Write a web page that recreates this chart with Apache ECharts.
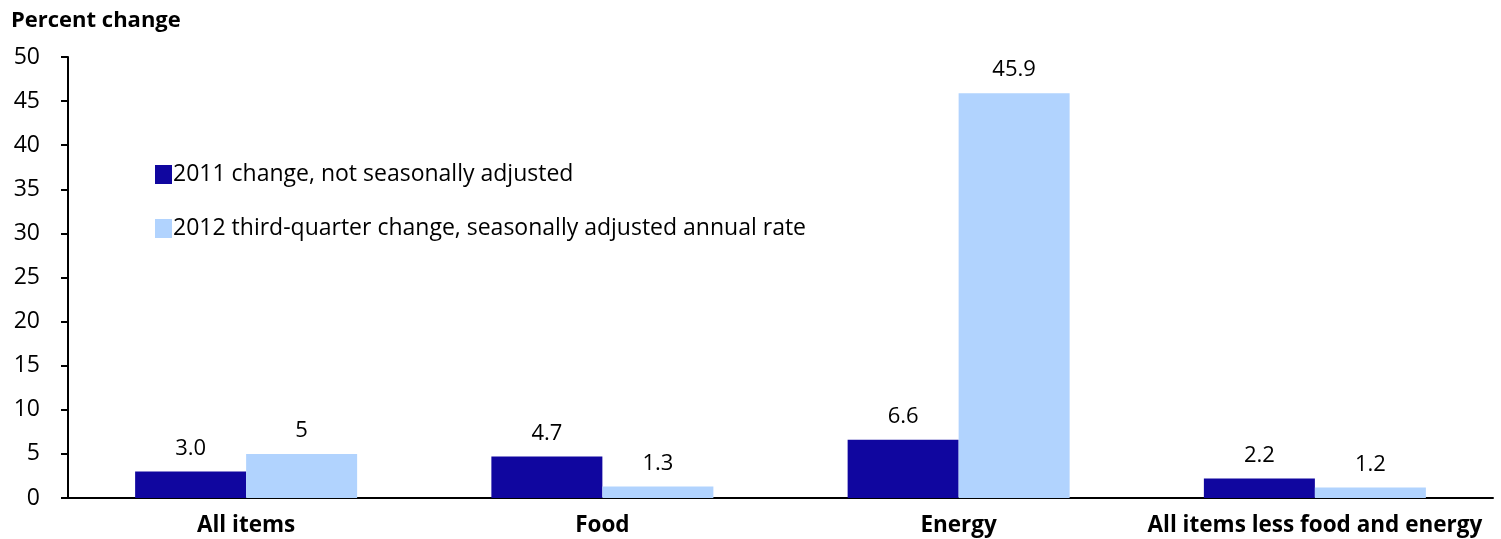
<!DOCTYPE html>
<html>
<head>
<meta charset="utf-8">
<script src="https://cdn.jsdelivr.net/npm/echarts@6/dist/echarts.min.js"></script>
<style>
  html, body { margin: 0; padding: 0; background: #fff; }
  #bar-chart { width: 1501px; height: 539px; }
</style>
</head>
<body>
<div id="bar-chart"></div>
<script>
var categories = ['All items', 'Food', 'Energy', 'All items less food and energy'];
var change2011 = [3.0, 4.7, 6.6, 2.2];
var change2012 = [5, 1.3, 45.9, 1.2];
var labels2011 = ['3.0', '4.7', '6.6', '2.2'];
var labels2012 = ['5', '1.3', '45.9', '1.2'];
var yTicks = [0, 50, 5];

var font = '"Open Sans", Lato, sans-serif';
var barchart = echarts.init(document.getElementById('bar-chart'));
var option = {
    animation: false,
    color: ['#10069f', '#b1d3fe'],
    textStyle: { fontFamily: font },

    title: {
        text: 'Percent change',
        left: 6,
        top: 5,
        textStyle: { fontFamily: font, fontSize: 22, fontWeight: 'bold', color: '#000' }
    },

    legend: {
        orient: 'vertical',
        left: 150,
        top: 158,
        itemGap: 31,
        itemWidth: 17,
        itemHeight: 19,
        icon: 'rect',
        textStyle: { fontFamily: font, fontSize: 23, color: '#000', padding: [0, 0, 0, -4] },
        data: ['2011 change, not seasonally adjusted', '2012 third-quarter change, seasonally adjusted annual rate']
    },

    grid: { left: 68, right: 8, top: 57, bottom: 41 },

    xAxis: [{
        type: 'category',
        data: categories,
        axisLine: { lineStyle: { color: '#000', width: 2 } },
        axisTick: { show: false },
        axisLabel: { interval: 0, fontFamily: font, fontSize: 22.5, fontWeight: 'bold', color: '#000', margin: 16 }
    }],
    yAxis: [{
        type: 'value',
        min: yTicks[0],
        max: yTicks[1],
        interval: yTicks[2],
        axisLine: { show: true, lineStyle: { color: '#000', width: 2 } },
        axisTick: { show: true, length: 7, lineStyle: { color: '#000', width: 2 } },
        splitLine: { show: false },
        axisLabel: { fontFamily: font, fontSize: 23, color: '#000', margin: 28 }
    }],

    series: [{
        name: '2011 change, not seasonally adjusted',
        type: 'bar',
        barWidth: 111,
        barGap: '0%',
        label: {
            show: true, position: 'top', distance: 12,
            fontFamily: font, fontSize: 22, color: '#000',
            formatter: function (p) { return labels2011[p.dataIndex]; }
        },
        data: change2011
    }, {
        name: '2012 third-quarter change, seasonally adjusted annual rate',
        type: 'bar',
        barWidth: 111,
        barGap: '0%',
        label: {
            show: true, position: 'top', distance: 12,
            fontFamily: font, fontSize: 22, color: '#000',
            formatter: function (p) { return labels2012[p.dataIndex]; }
        },
        data: change2012
    }]
};

barchart.setOption(option);
window.onresize = function(){
    barchart.resize();
};
</script>
</body>
</html>
